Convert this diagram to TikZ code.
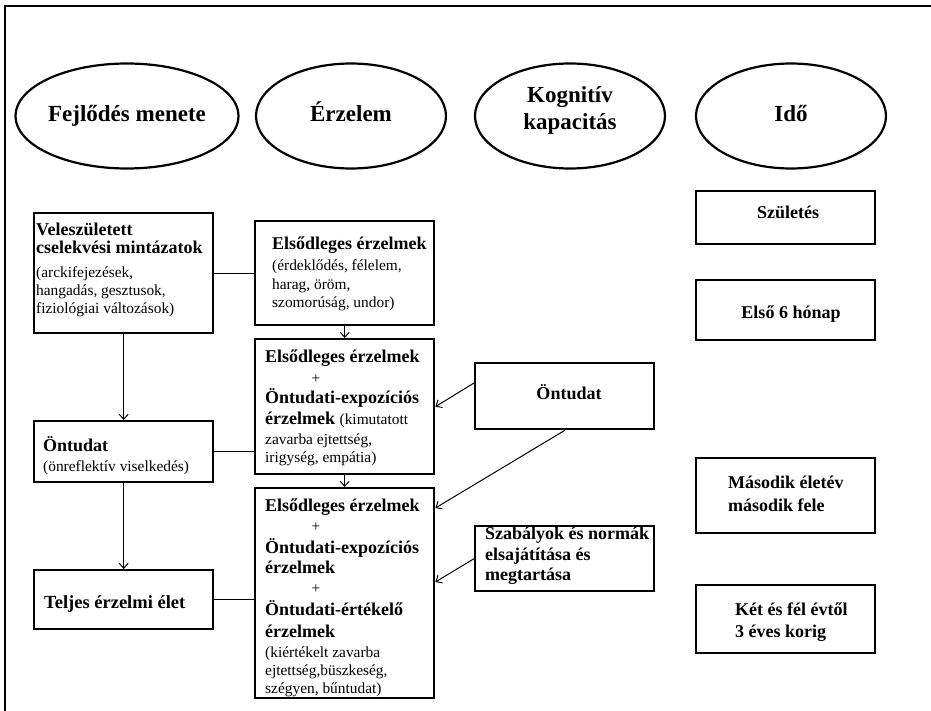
\documentclass[tikz,border=0pt]{standalone}
\usepackage{fontspec}
\setmainfont{Liberation Serif}
\usetikzlibrary{arrows.meta,shapes.geometric,calc}

\begin{document}
\begin{tikzpicture}[x=1pt,y=-1pt,
  oval/.style={draw,line width=2.2pt,ellipse,minimum width=190pt,minimum height=105pt,inner sep=0pt,
    text height=16pt,text depth=5pt,font=\fontsize{23}{27}\selectfont\bfseries},
  ovaltext/.style={anchor=base,inner sep=0pt,font=\fontsize{23}{27}\selectfont\bfseries},
  stage/.style={draw,line width=2.4pt,anchor=north west,inner sep=0pt,minimum width=179pt},
  hd/.style={anchor=base west,inner sep=0pt,font=\fontsize{18}{20}\selectfont\bfseries},
  hdc/.style={anchor=base,inner sep=0pt,font=\fontsize{18}{20}\selectfont\bfseries},
  tx/.style={anchor=base west,inner sep=0pt,font=\fontsize{15.4}{18}\selectfont},
  plus/.style={anchor=base,inner sep=0pt,font=\fontsize{15.4}{18}\selectfont},
  link/.style={line width=1pt},
  flow/.style={line width=1pt,-{Straight Barb[length=5pt,width=9pt]}},
]
\useasboundingbox (0,0) rectangle (931,711);

% outer frame (top and left edges)
\draw[line width=2.2pt] (5,711) -- (5,6) -- (931,6);

% column headings
\node[oval] (hFejl) at (127,116) {Fejlődés menete};
\node[oval] (hErz)  at (351,116) {Érzelem};
\node[oval] (hKog)  at (570,116) {};
\node[ovaltext] (hKog1) at (570,103) {Kognitív};
\node[ovaltext] (hKog2) at (570,130) {kapacitás};
\node[oval] (hIdo)  at (791,116) {Idő};

% ---- texts of the development column
\node[hd] (a1) at (36,236) {Veleszületett};
\node[hd] (a2) at (36,254) {cselekvési mintázatok};
\node[tx] (a3) at (36,277) {(arckifejezések,};
\node[tx] (a4) at (36,295) {hangadás, gesztusok,};
\node[tx] (a5) at (36,313) {fiziológiai változások)};

\node[hd] (b1) at (43,451) {Öntudat};
\node[tx] (b2) at (43,471) {(önreflektív viselkedés)};

\node[hd,font=\fontsize{18.5}{20}\selectfont\bfseries] (c1) at (44,608) {Teljes érzelmi élet};

% ---- texts of the emotion column
\node[hd] (d1) at (272,250) {Elsődleges érzelmek};
\node[tx] (d2) at (272,271) {(érdeklődés, félelem,};
\node[tx] (d3) at (272,289) {harag, öröm,};
\node[tx] (d4) at (272,307) {szomorúság, undor)};

\node[hd] (e1) at (265,362) {Elsődleges érzelmek};
\node[plus] (e2) at (316,383) {+};
\node[hd] (e3) at (265,403) {Öntudati-expozíciós};
\node[hd] (e4) at (265,424) {érzelmek \fontsize{15.4}{18}\selectfont\mdseries(kimutatott};
\node[tx] (e5) at (265,444) {zavarba ejtettség,};
\node[tx] (e6) at (265,462) {irigység, empátia)};

\node[hd] (f1) at (265,511) {Elsődleges érzelmek};
\node[plus] (f2) at (316,531) {+};
\node[hd] (f3) at (265,553) {Öntudati-expozíciós};
\node[hd] (f4) at (265,573) {érzelmek};
\node[plus] (f5) at (316,593) {+};
\node[hd] (f6) at (265,615) {Öntudati-értékelő};
\node[hd] (f7) at (265,637) {érzelmek};
\node[tx] (f8) at (265,657) {(kiértékelt zavarba};
\node[tx] (f9) at (265,675) {ejtettség,büszkeség,};
\node[tx] (f10) at (265,693) {szégyen, bűntudat)};

% ---- texts of the cognition column
\node[hdc] (g1) at (569,399) {Öntudat};
\node[hd] (h1) at (485,539) {Szabályok és normák};
\node[hd] (h2) at (485,560) {elsajátítása és};
\node[hd] (h3) at (485,580) {megtartása};

% ---- texts of the time column
\node[hdc] (i1) at (788,219) {Születés};
\node[hdc] (j1) at (791,318) {Első 6 hónap};
\node[hd] (k1) at (728,488) {Második életév};
\node[hd] (k2) at (728,511) {második fele};
\node[hd] (l1) at (735,615) {Két és fél évtől};
\node[hd] (l2) at (735,637) {3 éves korig};

% ---- boxes
\node[stage,minimum height=120pt] (A) at (33,212) {};
\node[stage,minimum height=61pt]  (B) at (33,420) {};
\node[stage,minimum height=59pt]  (C) at (33,569) {};

\node[stage,minimum height=104pt] (D) at (254,220) {};
\node[stage,minimum height=135pt] (E) at (254,338) {};
\node[stage,minimum height=210pt] (F) at (254,487) {};

\node[stage,minimum height=66pt]  (G) at (474,362) {};
\node[stage,minimum height=65pt]  (H) at (474,525) {};

\node[stage,minimum height=53pt]  (I) at (695,190) {};
\node[stage,minimum height=60pt]  (J) at (695,279) {};
\node[stage,minimum height=75pt]  (K) at (695,457) {};
\node[stage,minimum height=68pt]  (L) at (695,584) {};

% ---- connectors
\draw[link] (A.east) -- (A.east -| D.west);
\draw[link] (B.east) -- (B.east -| E.west);
\draw[link] (C.east) -- (C.east -| F.west);

\draw[flow] (A.south) -- (B.north);
\draw[flow] (B.south) -- (C.north);
\draw[flow] (D.south) -- (E.north);
\draw[flow] (E.south) -- (F.north);

\draw[flow] ($(G.north west)+(0,21)$) -- (E.east);
\draw[flow] (G.south) -- ($(F.north east)+(0,21)$);
\draw[flow] (H.west) -- ($(F.north east)+(0,95)$);
\end{tikzpicture}
\end{document}
